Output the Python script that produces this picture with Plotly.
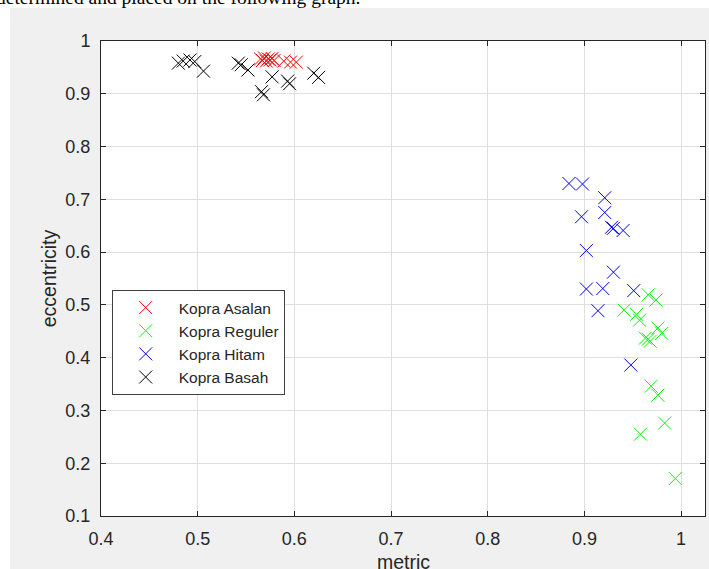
import plotly.graph_objects as go

# Kopra Asalan (red)
asalan_x = [0.565, 0.567, 0.569, 0.571, 0.573, 0.575, 0.577, 0.579, 0.589, 0.596, 0.602]
asalan_y = [0.966, 0.963, 0.968, 0.962, 0.966, 0.964, 0.967, 0.963, 0.962, 0.960, 0.960]

# Kopra Reguler (green)
reguler_x = [0.966, 0.974, 0.941, 0.954, 0.957, 0.976, 0.980, 0.963, 0.966, 0.968,
             0.969, 0.976, 0.983, 0.958, 0.994]
reguler_y = [0.519, 0.509, 0.490, 0.482, 0.471, 0.456, 0.446, 0.437, 0.435, 0.431,
             0.346, 0.329, 0.276, 0.255, 0.171]

# Kopra Hitam (blue)
hitam_x = [0.884, 0.898, 0.921, 0.897, 0.921, 0.928, 0.930, 0.940, 0.902, 0.930,
           0.902, 0.919, 0.951, 0.914, 0.948]
hitam_y = [0.730, 0.729, 0.703, 0.667, 0.675, 0.647, 0.645, 0.641, 0.603, 0.562,
           0.530, 0.531, 0.527, 0.489, 0.386]

# Kopra Basah (black)
basah_x = [0.480, 0.485, 0.492, 0.497, 0.506, 0.542, 0.545, 0.552, 0.566, 0.568,
           0.577, 0.593, 0.595, 0.620, 0.625]
basah_y = [0.958, 0.962, 0.964, 0.961, 0.943, 0.958, 0.955, 0.945, 0.904, 0.898,
           0.932, 0.924, 0.919, 0.939, 0.931]

series = [
    ("Kopra Asalan", asalan_x, asalan_y, "#ff0000"),
    ("Kopra Reguler", reguler_x, reguler_y, "#00ff00"),
    ("Kopra Hitam", hitam_x, hitam_y, "#0000ff"),
    ("Kopra Basah", basah_x, basah_y, "#000000"),
]

x_ticks = [0.4, 0.5, 0.6, 0.7, 0.8, 0.9, 1]
x_labels = ["0.4", "0.5", "0.6", "0.7", "0.8", "0.9", "1"]
y_ticks = [0.1, 0.2, 0.3, 0.4, 0.5, 0.6, 0.7, 0.8, 0.9, 1]
y_labels = ["0.1", "0.2", "0.3", "0.4", "0.5", "0.6", "0.7", "0.8", "0.9", "1"]

FONT = "Liberation Sans, Arial, sans-serif"
TXT = "#262626"

fig = go.Figure()
for i, (name, xs, ys, col) in enumerate(series):
    fig.add_trace(go.Scatter(
        x=xs, y=ys, mode="markers", name=name, legendgroup=str(i),
        marker=dict(symbol="x-thin-open", size=13, color=col,
                    line=dict(color=col, width=1)),
    ))

axis_common = dict(
    showgrid=True, gridcolor="#dfdfdf", gridwidth=1,
    showline=True, linecolor=TXT, linewidth=1, mirror="ticks",
    ticks="inside", ticklen=5, tickcolor=TXT,
    tickfont=dict(family=FONT, size=18, color=TXT),
    zeroline=False, automargin=False,
)

fig.update_layout(
    width=709, height=569,
    margin=dict(l=101, r=4, t=41, b=53),
    paper_bgcolor="#f0f0f0", plot_bgcolor="white",
    font=dict(family=FONT, size=16, color=TXT),
    xaxis=dict(range=[0.4, 1.0247], tickvals=x_ticks, ticktext=x_labels,
               ticklabelstandoff=6, **axis_common),
    yaxis=dict(range=[0.1, 1.0], tickvals=y_ticks, ticktext=y_labels,
               title=dict(text="eccentricity", font=dict(family=FONT, size=19.5, color=TXT), standoff=3),
               ticklabelstandoff=6, **axis_common),
    legend=dict(x=0.0177, y=0.4758, xanchor="left", yanchor="top",
                bgcolor="white", bordercolor="#404040", borderwidth=1,
                font=dict(family=FONT, size=15.5, color=TXT),
                tracegroupgap=0, itemwidth=56),
    showlegend=True,
)

# x-axis title (cut by the bottom edge in the screenshot, as in the reference)
fig.add_annotation(text="metric", xref="paper", yref="paper",
                   x=0.5, y=-46/475, xanchor="center", yanchor="middle",
                   showarrow=False, font=dict(family=FONT, size=19.5, color=TXT))

# white page strips around the figure area (screenshot of a document)
fig.add_shape(type="rect", xref="paper", yref="paper",
              x0=-101/604, x1=1 + 4/604, y0=1 + 33/475, y1=1 + 41/475,
              fillcolor="white", line=dict(width=0), layer="below")
fig.add_shape(type="rect", xref="paper", yref="paper",
              x0=-101/604, x1=-91/604, y0=-53/475, y1=1 + 41/475,
              fillcolor="white", line=dict(width=0), layer="below")

fig.add_annotation(text="determined and placed on the following graph.",
                   xref="paper", yref="paper", x=(362 - 101)/604, y=1 + 44/475,
                   xanchor="right", yanchor="middle", showarrow=False,
                   font=dict(family="Liberation Serif, Times New Roman, serif", size=19.5, color="black"))

fig.write_html("out.html", config={"displayModeBar": False},
               post_script="document.body.style.margin='0';document.body.style.overflow='hidden';")
